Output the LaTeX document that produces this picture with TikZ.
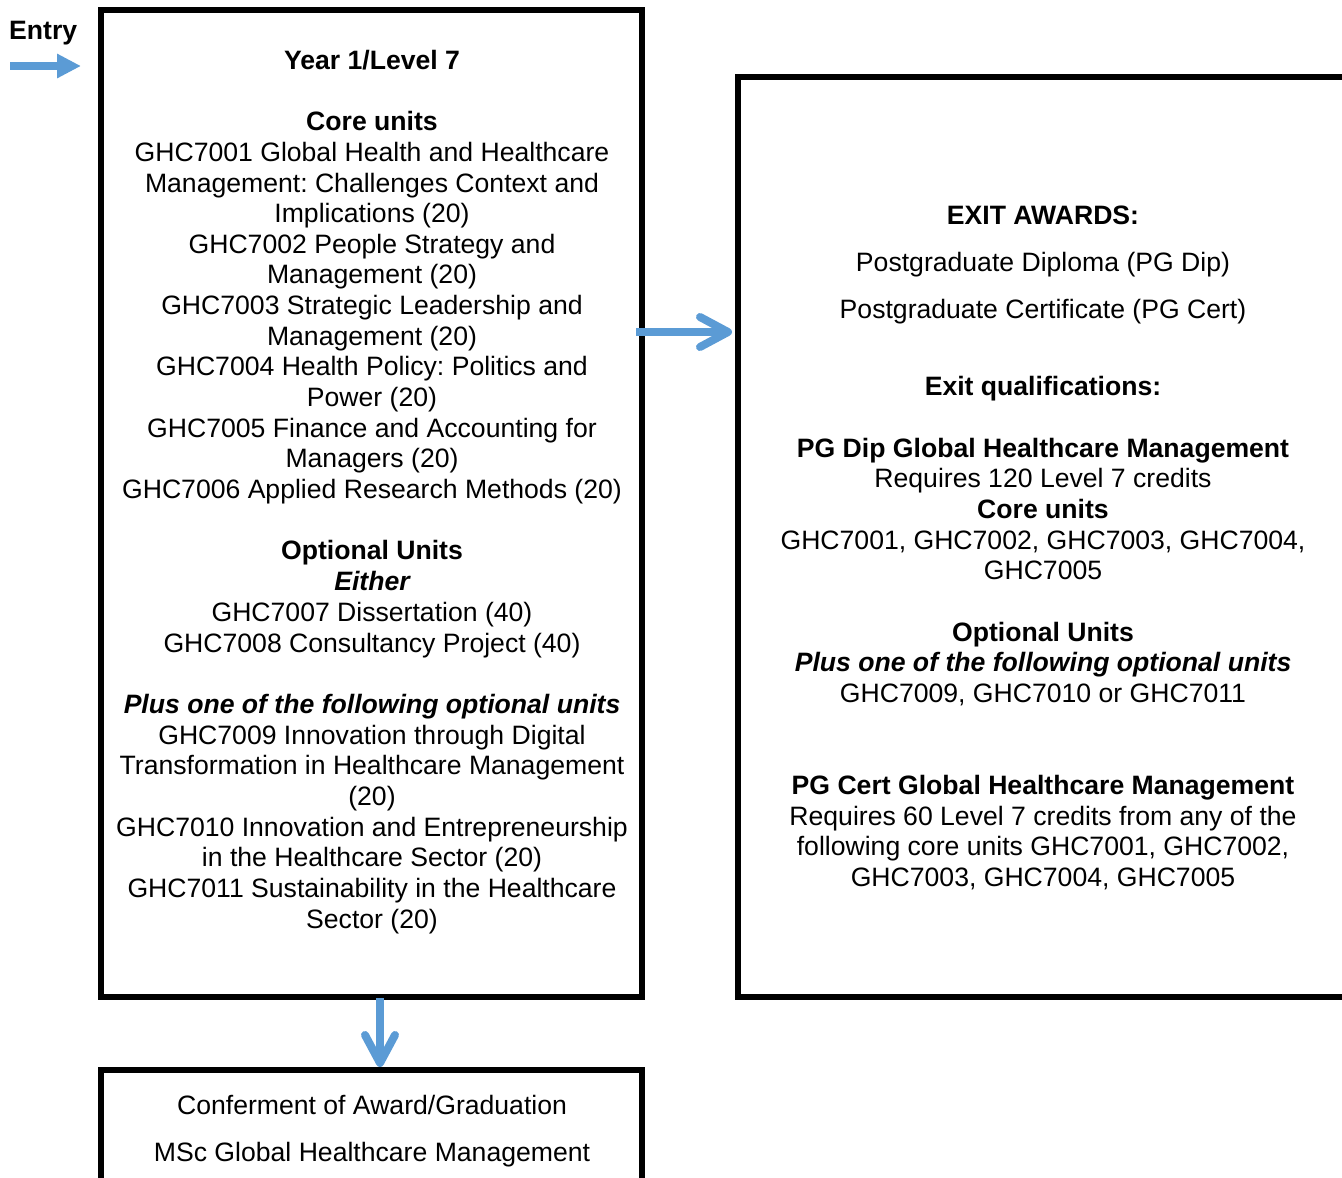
\documentclass[tikz,border=0pt]{standalone}
\usepackage{fontspec}
\setmainfont{Liberation Sans}
\usetikzlibrary{arrows.meta}
\definecolor{arrowblue}{RGB}{91,155,213}
\frenchspacing
\tikzset{
  txt/.style={anchor=base, inner sep=0pt, font=\fontsize{26.6}{30.65}\selectfont},
  bt/.style={txt, font=\fontsize{26.6}{30.65}\selectfont\bfseries},
  bit/.style={txt, font=\fontsize{26.6}{30.65}\selectfont\bfseries\itshape},
  frame/.style={draw=black, line width=6pt, rectangle, inner sep=0pt, outer sep=0pt},
  flow/.style={draw=arrowblue, line width=8pt},
}
\begin{document}
\begin{tikzpicture}[x=1pt,y=-1pt]
\useasboundingbox (0,0) rectangle (1342,1178);
\clip (0,0) rectangle (1342,1178);
% boxes
\node[frame, minimum width=541pt, minimum height=986.5pt] (yearbox) at (371.5,503.25) {};
\node[frame, minimum width=620pt, minimum height=920pt] (exitbox) at (1047.5,536.5) {};
\node[frame, minimum width=541pt, minimum height=150pt] (gradbox) at (371.5,1145) {};
% entry
\node[bt, anchor=base west] (entry) at (9,39) {Entry};
% left box text
\def\yo{9}
\node[bt]  (l1)  at (372,60+\yo) {Year 1/Level 7};
\node[bt]  (l2)  at (372,121+\yo) {Core units};
\node[txt] (l3)  at (372,152+\yo) {GHC7001 Global Health and Healthcare};
\node[txt] (l4)  at (372,183+\yo) {Management: Challenges Context and};
\node[txt] (l5)  at (372,213+\yo) {Implications (20)};
\node[txt] (l6)  at (372,244+\yo) {GHC7002 People Strategy and};
\node[txt] (l7)  at (372,274+\yo) {Management (20)};
\node[txt] (l8)  at (372,305+\yo) {GHC7003 Strategic Leadership and};
\node[txt] (l9)  at (372,336+\yo) {Management (20)};
\node[txt] (l10) at (372,366+\yo) {GHC7004 Health Policy: Politics and};
\node[txt] (l11) at (372,397+\yo) {Power (20)};
\node[txt] (l12) at (372,428+\yo) {GHC7005 Finance and Accounting for};
\node[txt] (l13) at (372,458+\yo) {Managers (20)};
\node[txt] (l14) at (372,489+\yo) {GHC7006 Applied Research Methods (20)};
\node[bt]  (l15) at (372,550+\yo) {Optional Units};
\node[bit] (l16) at (372,581+\yo) {Either};
\node[txt] (l17) at (372,612+\yo) {GHC7007 Dissertation (40)};
\node[txt] (l18) at (372,643+\yo) {GHC7008 Consultancy Project (40)};
\node[bit] (l19) at (372,704+\yo) {Plus one of the following optional units};
\node[txt] (l20) at (372,735+\yo) {GHC7009 Innovation through Digital};
\node[txt] (l21) at (372,765+\yo) {Transformation in Healthcare Management};
\node[txt] (l22) at (372,796+\yo) {(20)};
\node[txt] (l23) at (372,827+\yo) {GHC7010 Innovation and Entrepreneurship};
\node[txt] (l24) at (372,857+\yo) {in the Healthcare Sector (20)};
\node[txt] (l25) at (372,888+\yo) {GHC7011 Sustainability in the Healthcare};
\node[txt] (l26) at (372,919+\yo) {Sector (20)};
% right box text
\node[bt]  (r1)  at (1043,215+\yo) {EXIT AWARDS:};
\node[txt] (r2)  at (1043,262+\yo) {Postgraduate Diploma (PG Dip)};
\node[txt] (r3)  at (1043,309+\yo) {Postgraduate Certificate (PG Cert)};
\node[bt]  (r4)  at (1043,386+\yo) {Exit qualifications:};
\node[bt]  (r5)  at (1043,448+\yo) {PG Dip Global Healthcare Management};
\node[txt] (r6)  at (1043,478+\yo) {Requires 120 Level 7 credits};
\node[bt]  (r7)  at (1043,509+\yo) {Core units};
\node[txt] (r8)  at (1043,540+\yo) {GHC7001, GHC7002, GHC7003, GHC7004,};
\node[txt] (r9)  at (1043,570+\yo) {GHC7005};
\node[bt]  (r10) at (1043,632+\yo) {Optional Units};
\node[bit] (r11) at (1043,662+\yo) {Plus one of the following optional units};
\node[txt] (r12) at (1043,693+\yo) {GHC7009, GHC7010 or GHC7011};
\node[bt]  (r13) at (1043,785+\yo) {PG Cert Global Healthcare Management};
\node[txt] (r14) at (1043,816+\yo) {Requires 60 Level 7 credits from any of the};
\node[txt] (r15) at (1043,846+\yo) {following core units GHC7001, GHC7002,};
\node[txt] (r16) at (1043,877+\yo) {GHC7003, GHC7004, GHC7005};
% bottom box text
\node[txt] (g1) at (372,1105+\yo) {Conferment of Award/Graduation};
\node[txt] (g2) at (372,1152+\yo) {MSc Global Healthcare Management};
% arrows
\coordinate (entryA) at (10,66);
\coordinate (entryB) at (81,66);
\coordinate (midA) at (636,332);
\coordinate (midB) at (732,332);
\coordinate (downA) at (380,998);
\coordinate (downB) at (380,1067);
\draw[flow, -{Triangle[length=24pt,width=23pt]}] (entryA) -- (entryB);
\draw[flow, -{Straight Barb[length=28pt,width=30pt,round]}] (midA) -- (midB);
\draw[flow, -{Straight Barb[length=28pt,width=30pt,round]}] (downA) -- (downB);
\end{tikzpicture}
\end{document}
